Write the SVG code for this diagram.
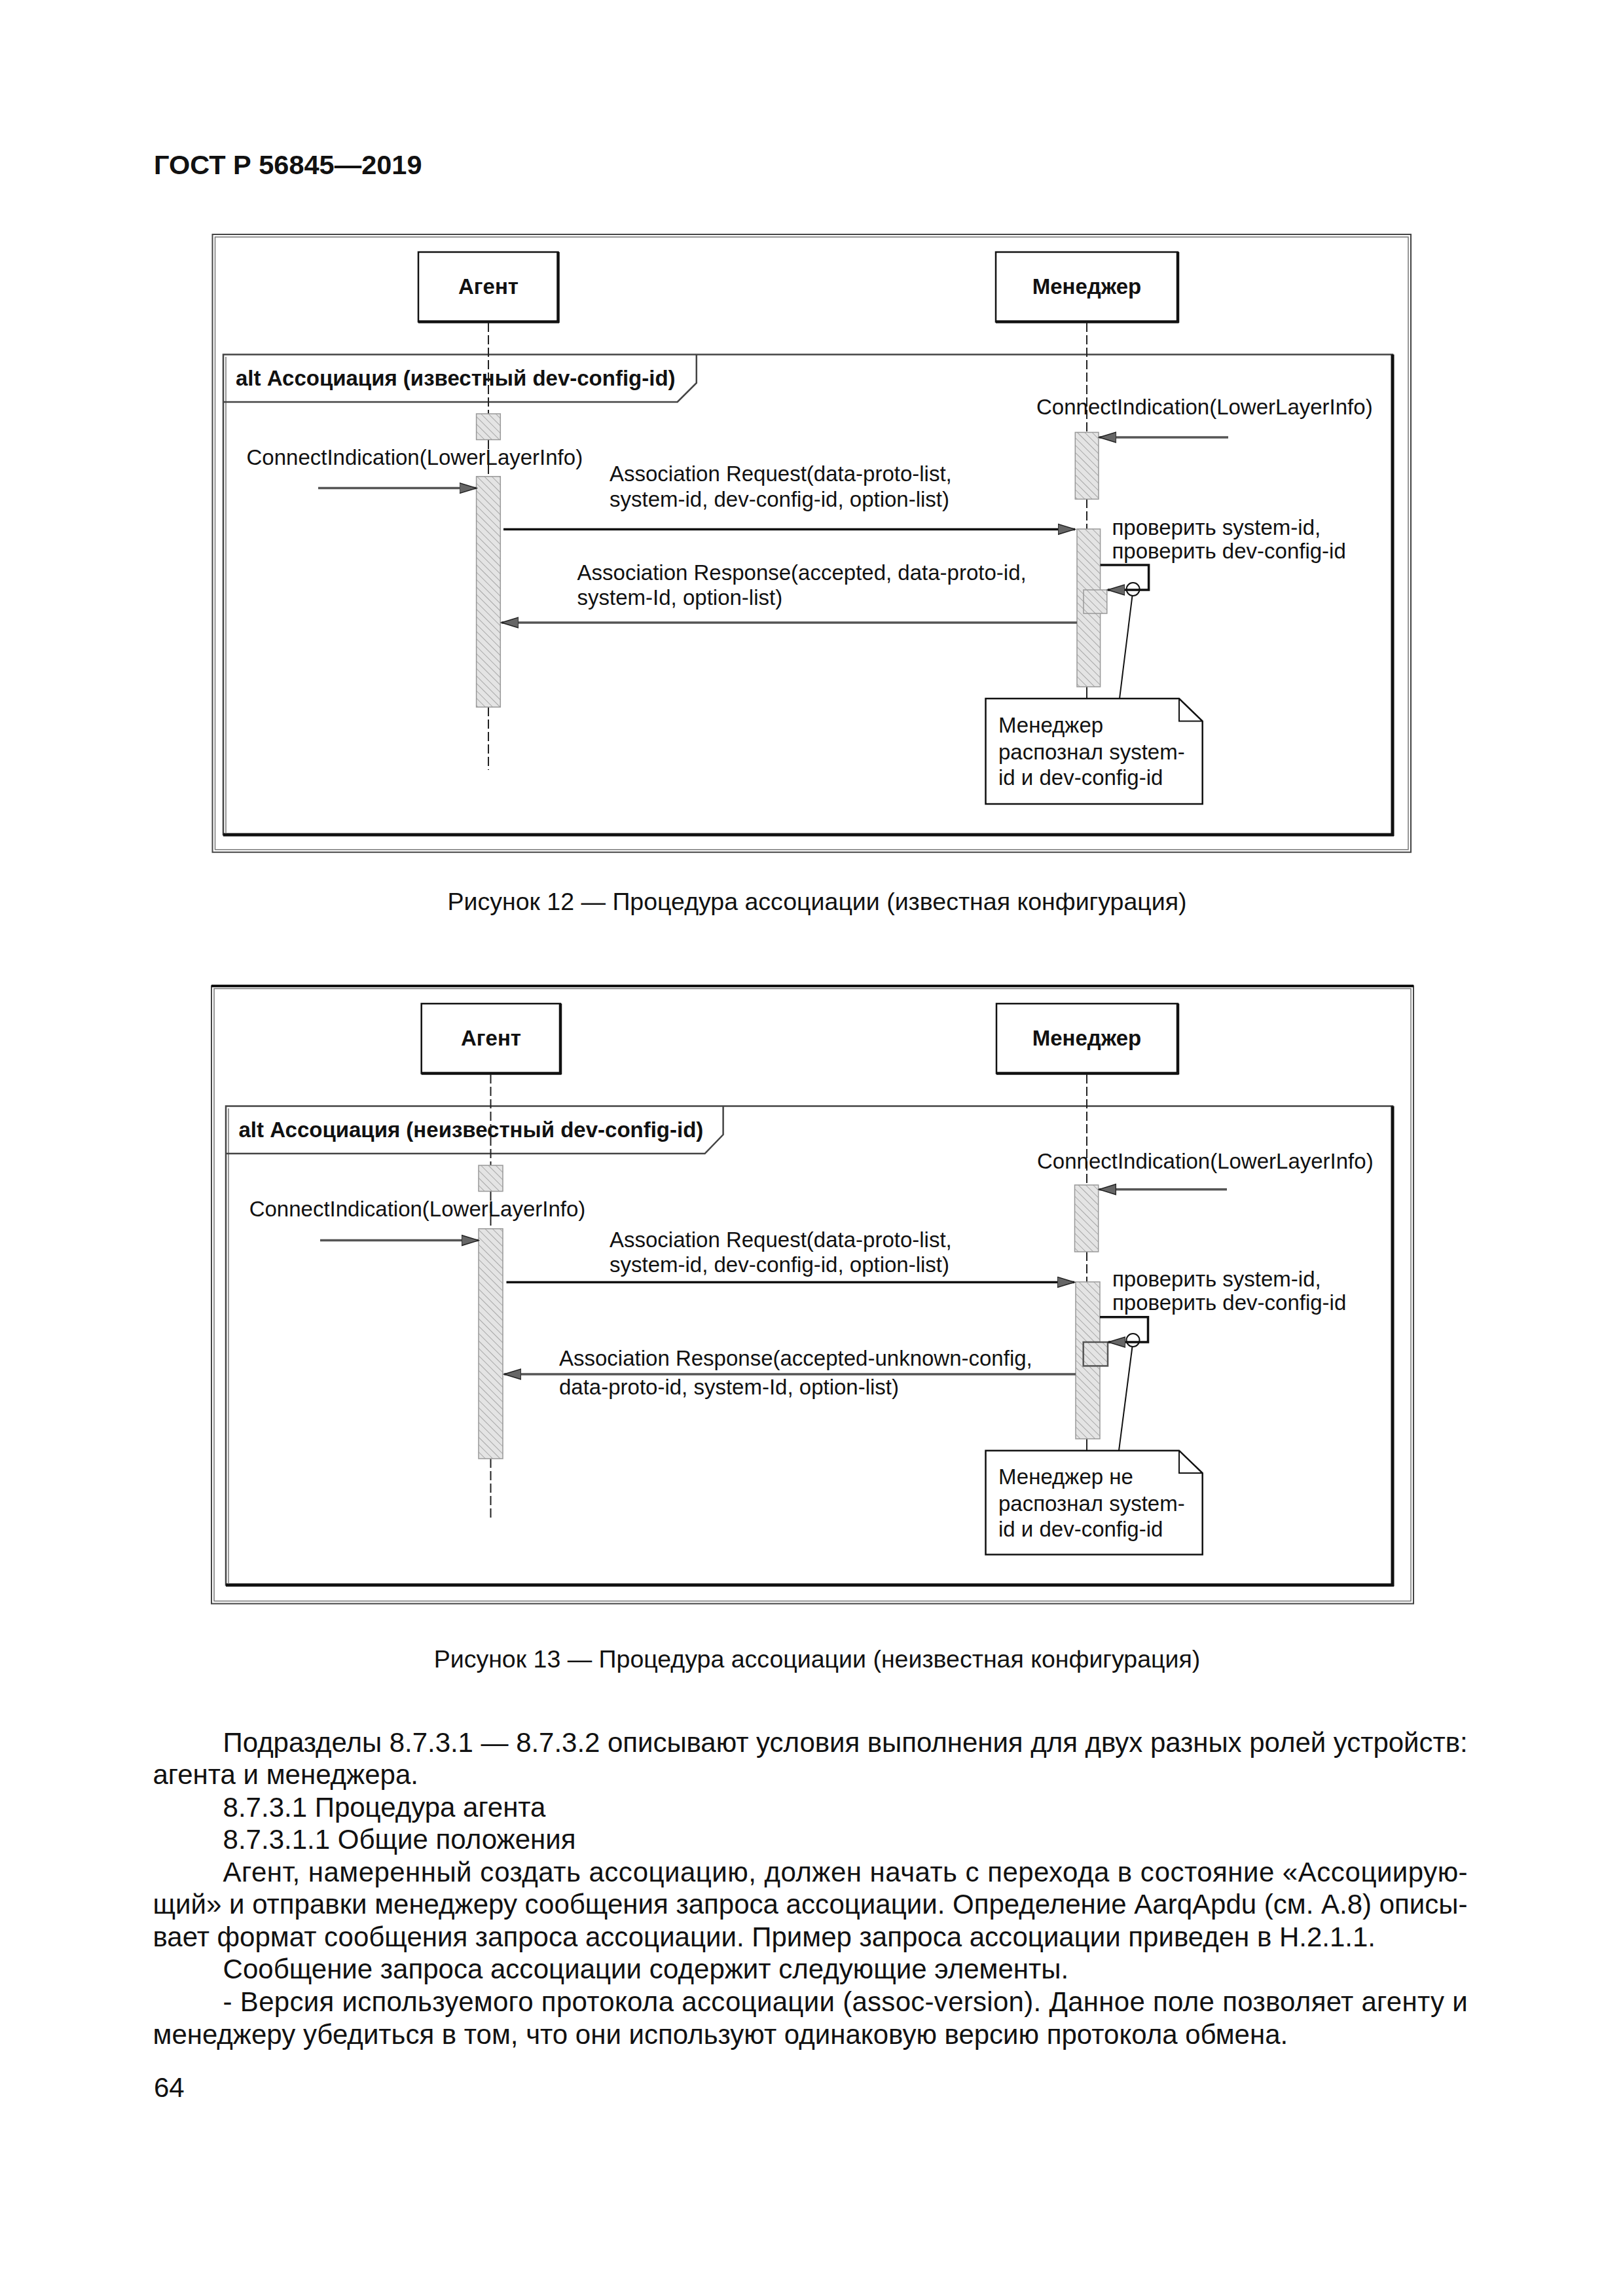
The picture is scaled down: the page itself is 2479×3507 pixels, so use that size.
<svg xmlns="http://www.w3.org/2000/svg" width="2479" height="3507" viewBox="0 0 2479 3507">
<style>
.t{font-family:"Liberation Sans",Arial,sans-serif;font-size:33px;fill:#111}
.tb{font-family:"Liberation Sans",Arial,sans-serif;font-size:33px;font-weight:bold;fill:#111}
.body{font-family:"Liberation Sans",Arial,sans-serif;font-size:42px;fill:#111}
.cap{font-family:"Liberation Sans",Arial,sans-serif;font-size:37.5px;fill:#111}
.frame{fill:none;stroke:#444;stroke-width:2}
.frame2{fill:none;stroke:#777;stroke-width:1.5}
.alt{fill:none;stroke:#444;stroke-width:2.5}
.thick{stroke:#111;stroke-width:5}
.box{fill:#fff;stroke:#111;stroke-width:2.5}
.shadow{stroke:#111;stroke-width:4.5}
.life{stroke:#222;stroke-width:2;stroke-dasharray:14 5;fill:none}
.act{fill:url(#hatch);stroke:#999;stroke-width:1.5}
.act2{fill:url(#hatch);stroke:#555;stroke-width:2.5}
.msg{stroke:#111;stroke-width:3.5;fill:none;marker-end:url(#ah)}
.msgg{stroke:#555;stroke-width:3.5;fill:none;marker-end:url(#ah)}
.note{fill:#fff;stroke:#111;stroke-width:2.5}
.anch{stroke:#111;stroke-width:2;fill:none}
</style>
<defs>
<pattern id="hatch" width="8" height="8" patternUnits="userSpaceOnUse" patternTransform="rotate(-45)">
<rect width="8" height="8" fill="#e4e4e4"/>
<line x1="0" y1="0" x2="0" y2="8" stroke="#a8a8a8" stroke-width="2"/>
</pattern>
<marker id="ah" markerUnits="userSpaceOnUse" markerWidth="28" markerHeight="20" refX="26" refY="9" orient="auto">
<path d="M0,1 L26,9 L0,17 z" fill="#666" stroke="#222" stroke-width="1.5"/>
</marker>
</defs>
<rect width="2479" height="3507" fill="#fff"/>

<text class="tb" x="235" y="266" style="font-size:41.5px">ГОСТ Р 56845—2019</text>

<!-- Figure 12 -->
<g id="fig12">
<g id="f12-frame">
<rect class="frame" x="324.5" y="358" width="1830.5" height="943.7"/>
<rect class="frame2" x="328.5" y="362" width="1822.5" height="935.7"/>
</g>
<g id="f12-alt">
<rect class="alt" x="341" y="541.5" width="1786" height="733.5"/>
<line class="frame2" x1="345" y1="545" x2="345" y2="1272"/>
<line class="thick" x1="2127" y1="541.5" x2="2127" y2="1277"/>
<line class="thick" x1="341" y1="1275" x2="2129" y2="1275"/>
<path class="alt" d="M341,614 L1034.7,614 L1063.8,585 L1063.8,541.5"/>
<text class="tb" x="360" y="589">alt Ассоциация (известный dev-config-id)</text>
</g>
<g id="f12-agent">
<rect class="box" x="639" y="385" width="213.5" height="106.5"/>
<line class="shadow" x1="852.5" y1="385" x2="852.5" y2="493"/>
<line class="shadow" x1="639" y1="491.5" x2="854" y2="491.5"/>
<text class="tb" x="746" y="449" text-anchor="middle">Агент</text>
</g>
<g id="f12-manager">
<rect class="box" x="1521" y="385" width="278" height="106.5"/>
<line class="shadow" x1="1799" y1="385" x2="1799" y2="493"/>
<line class="shadow" x1="1521" y1="491.5" x2="1800.5" y2="491.5"/>
<text class="tb" x="1660" y="449" text-anchor="middle">Менеджер</text>
</g>
<g id="f12-lifelines">
<line class="life" x1="746" y1="493" x2="746" y2="632"/>
<line class="life" x1="746" y1="672" x2="746" y2="728"/>
<line class="life" x1="746" y1="1080" x2="746" y2="1176"/>
<line class="life" x1="1660" y1="493" x2="1660" y2="660"/>
<line class="life" x1="1660" y1="762" x2="1660" y2="808"/>
<line x1="1660" y1="1049" x2="1660" y2="1067" stroke="#222" stroke-width="2"/>
</g>
<g id="f12-activations">
<rect class="act" x="727.6" y="632" width="36.7" height="39.6"/>
<rect class="act" x="727.6" y="727.8" width="36.7" height="352.2"/>
<rect class="act" x="1642.3" y="660.4" width="35.7" height="102"/>
<rect class="act" x="1645" y="808" width="35.6" height="241"/>
<rect class="act" x="1655" y="901" width="35.8" height="36"/>
</g>
<g id="f12-note">
<path class="note" d="M1505.5,1067 L1801,1067 L1836.7,1101.6 L1836.7,1228 L1505.5,1228 z"/>
<path class="anch" d="M1801,1067 L1801,1101.6 L1836.7,1101.6"/>
<text class="t" x="1525" y="1119">Менеджер</text>
<text class="t" x="1525" y="1160">распознал system-</text>
<text class="t" x="1525" y="1199">id и dev-config-id</text>
</g>
<g id="f12-connectors">
<line class="msgg" x1="1876" y1="668" x2="1679" y2="668"/>
<text class="t" x="1583" y="633">ConnectIndication(LowerLayerInfo)</text>
<line class="msgg" x1="486" y1="745.6" x2="727.6" y2="745.6"/>
<text class="t" x="376.5" y="710">ConnectIndication(LowerLayerInfo)</text>
<line class="msg" x1="769" y1="808.4" x2="1642" y2="808.4"/>
<text class="t" x="931" y="735">Association Request(data-proto-list,</text>
<text class="t" x="931" y="774">system-id, dev-config-id, option-list)</text>
<line class="msgg" x1="1645" y1="951" x2="766" y2="951"/>
<text class="t" x="881.6" y="886">Association Response(accepted, data-proto-id,</text>
<text class="t" x="881.6" y="924">system-Id, option-list)</text>
<polyline class="msg" points="1680.6,863 1754.6,863 1754.6,901 1692,901"/>
<text class="t" x="1698.5" y="817">проверить system-id,</text>
<text class="t" x="1698.5" y="853">проверить dev-config-id</text>
<circle cx="1730.6" cy="900" r="10" fill="none" stroke="#111" stroke-width="2"/>
<line class="anch" x1="1729.5" y1="910" x2="1710" y2="1067"/>
</g>
</g>

<text class="cap" x="1248" y="1390" text-anchor="middle">Рисунок 12 — Процедура ассоциации (известная конфигурация)</text>

<!-- Figure 13 -->
<g id="fig13" transform="translate(0,1148)">
<g id="f13-frame">
<rect class="frame" x="323" y="358" width="1836" height="943.5"/>
<rect class="frame2" x="327" y="362" width="1828" height="935.5"/>
<line x1="323" y1="358" x2="2159" y2="358" stroke="#111" stroke-width="4"/>
</g>
<g id="f13-alt">
<rect class="alt" x="345" y="541.5" width="1782" height="731.5"/>
<line class="frame2" x1="349" y1="545" x2="349" y2="1270"/>
<line class="thick" x1="2127" y1="541.5" x2="2127" y2="1275"/>
<line class="thick" x1="345" y1="1273" x2="2129" y2="1273"/>
<path class="alt" d="M345,614 L1076.6,614 L1104.6,585 L1104.6,541.5"/>
<text class="tb" x="364.5" y="589">alt Ассоциация (неизвестный dev-config-id)</text>
</g>
<g id="f13-agent">
<rect class="box" x="643.7" y="385" width="212.3" height="106.5"/>
<line class="shadow" x1="856" y1="385" x2="856" y2="493"/>
<line class="shadow" x1="643.7" y1="491.5" x2="857.5" y2="491.5"/>
<text class="tb" x="750" y="449" text-anchor="middle">Агент</text>
</g>
<g id="f13-manager">
<rect class="box" x="1522" y="385" width="277" height="106.5"/>
<line class="shadow" x1="1799" y1="385" x2="1799" y2="493"/>
<line class="shadow" x1="1522" y1="491.5" x2="1800.5" y2="491.5"/>
<text class="tb" x="1660" y="449" text-anchor="middle">Менеджер</text>
</g>
<g id="f13-lifelines">
<line class="life" x1="749.5" y1="493" x2="749.5" y2="632"/>
<line class="life" x1="749.5" y1="672" x2="749.5" y2="728"/>
<line class="life" x1="749.5" y1="1080" x2="749.5" y2="1170"/>
<line class="life" x1="1660" y1="493" x2="1660" y2="662"/>
<line class="life" x1="1660" y1="764" x2="1660" y2="810"/>
<line x1="1660" y1="1049" x2="1660" y2="1067" stroke="#222" stroke-width="2"/>
</g>
<g id="f13-activations">
<rect class="act" x="731" y="632" width="37" height="39.6"/>
<rect class="act" x="731" y="728.8" width="37" height="351.2"/>
<rect class="act" x="1641.5" y="662" width="36.2" height="102"/>
<rect class="act" x="1643" y="810" width="37" height="239.7"/>
<rect class="act2" x="1654.7" y="902" width="37.3" height="36.4"/>
</g>
<g id="f13-note">
<path class="note" d="M1505.5,1067.7 L1801,1067.7 L1836.7,1102 L1836.7,1226.5 L1505.5,1226.5 z"/>
<path class="anch" d="M1801,1067.7 L1801,1102 L1836.7,1102"/>
<text class="t" x="1525" y="1119">Менеджер не</text>
<text class="t" x="1525" y="1160">распознал system-</text>
<text class="t" x="1525" y="1199">id и dev-config-id</text>
</g>
<g id="f13-connectors">
<line class="msgg" x1="1874" y1="668.7" x2="1678.5" y2="668.7"/>
<text class="t" x="1584" y="637">ConnectIndication(LowerLayerInfo)</text>
<line class="msgg" x1="489" y1="746.6" x2="731" y2="746.6"/>
<text class="t" x="380.7" y="710">ConnectIndication(LowerLayerInfo)</text>
<line class="msg" x1="773.5" y1="810.5" x2="1641" y2="810.5"/>
<text class="t" x="931" y="757">Association Request(data-proto-list,</text>
<text class="t" x="931" y="795">system-id, dev-config-id, option-list)</text>
<line class="msgg" x1="1643" y1="951" x2="770" y2="951"/>
<text class="t" x="854" y="937.7">Association Response(accepted-unknown-config,</text>
<text class="t" x="854" y="982">data-proto-id, system-Id, option-list)</text>
<polyline class="msg" points="1680,863.7 1753.5,863.7 1753.5,902 1693,902"/>
<text class="t" x="1699" y="817">проверить system-id,</text>
<text class="t" x="1699" y="853">проверить dev-config-id</text>
<circle cx="1730.5" cy="899" r="10" fill="none" stroke="#111" stroke-width="2"/>
<line class="anch" x1="1729.5" y1="909" x2="1709" y2="1067.7"/>
</g>
</g>

<text class="cap" x="1248" y="2547" text-anchor="middle">Рисунок 13 — Процедура ассоциации (неизвестная конфигурация)</text>

<g id="body-text">
<text class="body" x="340.6" y="2676" textLength="1901" lengthAdjust="spacing">Подразделы 8.7.3.1 — 8.7.3.2 описывают условия выполнения для двух разных ролей устройств:</text>
<text class="body" x="233.5" y="2725">агента и менеджера.</text>
<text class="body" x="340.6" y="2775">8.7.3.1 Процедура агента</text>
<text class="body" x="340.6" y="2824">8.7.3.1.1 Общие положения</text>
<text class="body" x="340.6" y="2874" textLength="1901" lengthAdjust="spacing">Агент, намеренный создать ассоциацию, должен начать с перехода в состояние «Ассоциирую-</text>
<text class="body" x="233.5" y="2923" textLength="2008" lengthAdjust="spacing">щий» и отправки менеджеру сообщения запроса ассоциации. Определение AarqApdu (см. A.8) описы-</text>
<text class="body" x="233.5" y="2973">вает формат сообщения запроса ассоциации. Пример запроса ассоциации приведен в H.2.1.1.</text>
<text class="body" x="340.6" y="3022">Сообщение запроса ассоциации содержит следующие элементы.</text>
<text class="body" x="340.6" y="3072" textLength="1901" lengthAdjust="spacing">- Версия используемого протокола ассоциации (assoc-version). Данное поле позволяет агенту и</text>
<text class="body" x="233.5" y="3122">менеджеру убедиться в том, что они используют одинаковую версию протокола обмена.</text>
<text class="body" x="235" y="3203">64</text>
</g>
</svg>
